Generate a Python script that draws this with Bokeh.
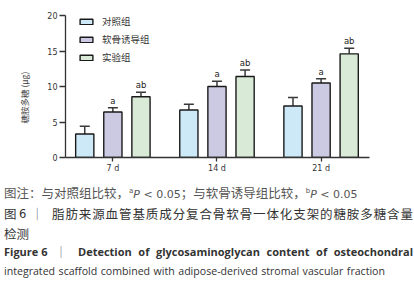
from bokeh.plotting import figure
from bokeh.layouts import column
from bokeh.models import (Range1d, FixedTicker, Whisker, TeeHead, Legend,
                          LegendItem, ColumnDataSource, Title, Div)
from bokeh.embed import file_html
from bokeh.resources import INLINE
from bokeh.core.properties import value

# ---------------- data ----------------
days = ["7 d", "14 d", "21 d"]
groups = ["对照组", "软骨诱导组", "实验组"]
control = [3.3, 6.7, 7.25]
control_err = [1.1, 0.8, 1.2]
cartilage = [6.4, 10.0, 10.5]
cartilage_err = [0.6, 0.75, 0.6]
experimental = [8.55, 11.4, 14.6]
experimental_err = [0.65, 0.93, 0.8]
sig_control = ["", "", ""]
sig_cartilage = ["a", "a", "a"]
sig_experimental = ["ab", "ab", "ab"]
y_ticks = [0, 5, 10, 15, 20]
colors = ["#cde9f8", "#cbcae2", "#d9ebd6"]

y_title = "糖胺多糖 (μg)"
note_parts = ["图注：与对照组比较，", "a", "P", " < 0.05", "；与软骨诱导组比较，", "b", "P", " < 0.05"]
title_cn_head = ["图", "6", "｜"]
title_cn = "脂肪来源血管基质成分复合骨软骨一体化支架的糖胺多糖含量"
title_cn_2 = "检测"
title_en_head = ["Figure 6", "｜"]
title_en_1 = "Detection of glycosaminoglycan content of osteochondral"
title_en_2 = "integrated scaffold combined with adipose-derived stromal vascular fraction"

CJK = "Noto Sans CJK SC"
LAT = "DejaVu Sans"
ENG = "Open Sans"

# ---------------- chart ----------------
p = figure(width=414, height=180, x_range=Range1d(-0.455, 2.465), y_range=Range1d(0, 20),
           output_backend="svg", toolbar_location=None,
           min_border_left=61, min_border_right=45, min_border_top=15, min_border_bottom=23)
p.outline_line_color = None
p.xgrid.grid_line_color = None
p.ygrid.grid_line_color = None
p.background_fill_color = "white"
p.border_fill_color = "white"

offsets = [-0.27, 0.0, 0.27]
series = [(control, control_err, sig_control),
          (cartilage, cartilage_err, sig_cartilage),
          (experimental, experimental_err, sig_experimental)]
items = []
for i, (vals, errs, sigs) in enumerate(series):
    xs = [k + offsets[i] for k in range(len(days))]
    tops = [v + e for v, e in zip(vals, errs)]
    src = ColumnDataSource(dict(x=xs, top=vals, upper=tops, sig=sigs))
    w = Whisker(base="x", lower="top", upper="upper", source=src, dimension="height",
                line_color="#3a3a3a", line_width=1.5,
                upper_head=TeeHead(size=10, line_color="#3a3a3a", line_width=1.5),
                lower_head=None, level="underlay")
    p.add_layout(w)
    r = p.vbar(x="x", top="top", width=0.175, bottom=0, source=src,
               fill_color=colors[i], line_color="#1a1a1a", line_width=1.4)
    p.text(x="x", y="upper", text="sig", source=src, text_align="center",
           text_baseline="alphabetic", y_offset=-7, text_font=value(LAT),
           text_font_size="8.5px", text_color="#222222")
    items.append(LegendItem(label=groups[i], renderers=[r]))

legend = Legend(items=items, location=(13, 93), orientation="vertical",
                glyph_width=16, glyph_height=7, label_height=12, spacing=4,
                padding=0, margin=0, label_standoff=8,
                border_line_alpha=0, background_fill_alpha=0,
                label_text_font=CJK, label_text_font_size="9.5px",
                label_text_color="#333333")
p.add_layout(legend)

p.xaxis.ticker = FixedTicker(ticks=list(range(len(days))))
p.xaxis.major_label_overrides = {k: d for k, d in enumerate(days)}
p.xaxis.major_tick_out = 4
p.xaxis.major_tick_in = 0
p.xaxis.minor_tick_line_color = None
p.xaxis.major_label_standoff = 2
p.yaxis.ticker = FixedTicker(ticks=y_ticks)
p.yaxis.major_tick_out = 6
p.yaxis.major_tick_in = 0
p.yaxis.minor_tick_line_color = None
p.yaxis.major_label_standoff = 2
for ax in (p.xaxis, p.yaxis):
    ax.axis_line_color = "#333333"
    ax.axis_line_width = 1.3
    ax.major_tick_line_color = "#333333"
    ax.major_tick_line_width = 1.3
    ax.major_label_text_font = LAT
    ax.major_label_text_font_size = "8px"
    ax.major_label_text_color = "#333333"

ytitle = Title(text=y_title, align="left", offset=34, standoff=30,
               text_font=CJK, text_font_size="8.5px", text_font_style="normal",
               text_color="#444444")
p.add_layout(ytitle, "left")

# ---------------- caption ----------------
def box(left, top, content, extra=""):
    return (f'<div style="position:absolute;left:{left}px;top:{top}px;line-height:16px;'
            f'{extra}">{content}</div>')

cjk = f"font-family:'{CJK}';"
lat = f"font-family:'{LAT}';"
eng = f"font-family:'{ENG}';"
sup = f'<sup style="{lat}font-size:7px;vertical-align:5px;line-height:0;">'
ita = f'<span style="{lat}font-size:11px;font-style:italic;">'
num = f'<span style="{lat}font-size:11px;">'
n = note_parts
line1 = (f"{n[0]}{sup}{n[1]}</sup>{ita}{n[2]}</span>{num}{n[3].replace('<', '&lt;')}</span>"
         f"{n[4]}{sup}{n[5]}</sup>{ita}{n[6]}</span>{num}{n[7].replace('<', '&lt;')}</span>")
just = "text-align:justify;text-align-last:justify;"
nw = "white-space:nowrap;"
html = ('<div style="position:relative;width:414px;height:108px;background:white;'
        'margin:0;padding:0;">'
        + box(4, 5, line1, f"{cjk}font-size:12.5px;color:#555555;{nw}")
        + box(4, 26, title_cn_head[0], f"{cjk}font-size:12.5px;color:#333333;{nw}")
        + box(19, 26, title_cn_head[1], f"{lat}font-size:11.5px;color:#333333;{nw}")
        + box(31, 26, title_cn_head[2], f"{cjk}font-size:12.5px;color:#666666;{nw}")
        + box(52, 26, title_cn, f"{cjk}font-size:12.5px;color:#333333;width:361px;{just}")
        + box(4, 46, title_cn_2, f"{cjk}font-size:12.5px;color:#333333;{nw}")
        + box(4, 64, title_en_head[0], f"{eng}font-size:11px;font-weight:bold;color:#333333;{nw}")
        + box(55, 64, title_en_head[1], f"{cjk}font-size:12px;color:#666666;{nw}")
        + box(78, 64, title_en_1, f"{eng}font-size:11px;font-weight:bold;color:#333333;width:335px;{just}")
        + box(4, 83, title_en_2, f"{eng}font-size:10.6px;color:#333333;width:381px;{just}")
        + '</div>')
cap = Div(text=html, width=414, height=108, margin=0)

layout = column(p, cap, spacing=0)
open("out.html", "w").write(file_html(layout, INLINE))
